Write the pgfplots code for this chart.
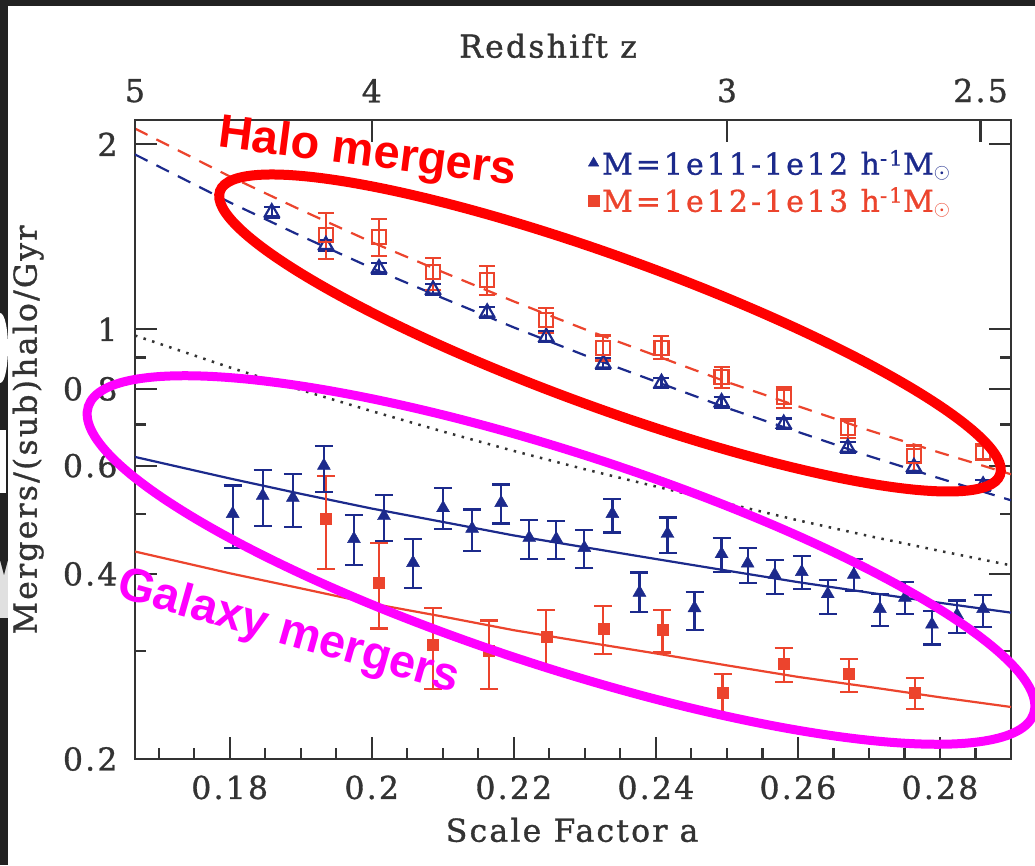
\documentclass[border=0pt]{standalone}
\usepackage{pgfplots}
\pgfplotsset{compat=1.18}
\usepackage{pgfplotstable}
\usepackage{fontspec}
\newfontfamily\labfontfam[LetterSpace=7,FakeBold=1]{DejaVu Serif}
\newfontfamily\legfontfam[LetterSpace=10,FakeBold=1]{DejaVu Serif}
\newfontfamily\annfontfam{Liberation Sans}
\newcommand\lab{\labfontfam\fontsize{31.5}{36}\selectfont}
\newcommand\legf{\legfontfam\fontsize{30}{34}\selectfont}
\newcommand\annf{\annfontfam\bfseries\fontsize{47}{50}\selectfont}
\definecolor{axgray}{HTML}{333333}
\definecolor{dblue}{RGB}{28,42,140}
\definecolor{dred}{RGB}{236,68,45}
\definecolor{bgdark}{HTML}{222222}
\definecolor{annred}{RGB}{255,0,0}
\definecolor{annmag}{RGB}{255,0,255}

% halo mergers, low mass (open triangles)
\pgfplotstableread{
a v
0.18592 1.550
0.19354 1.371
0.20102 1.257
0.20863 1.161
0.21625 1.065
0.22457 0.972
0.23261 0.880
0.24079 0.818
0.24925 0.761
0.25800 0.702
0.26702 0.642
0.27633 0.597
0.28607 0.557
}\halob
% halo mergers, high mass (open squares)
\pgfplotstableread{
a v ep em
0.19354 1.422 0.123 0.121
0.20102 1.412 0.098 0.097
0.20863 1.238 0.067 0.079
0.21625 1.203 0.064 0.066
0.22457 1.036 0.047 0.051
0.23261 0.931 0.046 0.041
0.24079 0.931 0.043 0.037
0.24925 0.836 0.032 0.033
0.25800 0.777 0.027 0.032
0.26702 0.690 0.024 0.025
0.27633 0.623 0.024 0.034
0.28607 0.630 0.021 0.014
}\halor
% galaxy mergers, low mass
\pgfplotstableread{
a v ep em
0.18042 0.501 0.056 0.060
0.18465 0.536 0.055 0.057
0.18889 0.532 0.050 0.055
0.19326 0.600 0.046 0.056
0.19749 0.456 0.043 0.043
0.20172 0.497 0.041 0.044
0.20581 0.417 0.039 0.037
0.21004 0.512 0.040 0.038
0.21413 0.474 0.035 0.038
0.21822 0.522 0.037 0.039
0.22217 0.458 0.032 0.035
0.22598 0.456 0.032 0.033
0.22993 0.441 0.031 0.032
0.23388 0.501 0.029 0.034
0.23769 0.373 0.029 0.026
0.24164 0.465 0.029 0.032
0.24544 0.352 0.022 0.028
0.24925 0.431 0.027 0.028
0.25292 0.416 0.025 0.029
0.25673 0.399 0.023 0.028
0.26054 0.403 0.025 0.025
0.26420 0.371 0.020 0.027
0.26787 0.399 0.024 0.024
0.27154 0.351 0.020 0.022
0.27506 0.366 0.022 0.022
0.27887 0.331 0.017 0.024
0.28240 0.343 0.019 0.022
0.28607 0.351 0.019 0.023
}\galb
% galaxy mergers, high mass
\pgfplotstableread{
a v ep em
0.19354 0.492 0.086 0.084
0.20102 0.387 0.062 0.061
0.20863 0.307 0.045 0.047
0.21653 0.300 0.036 0.040
0.22457 0.316 0.034 0.035
0.23261 0.326 0.029 0.030
0.24093 0.325 0.025 0.027
0.24939 0.256 0.019 0.020
0.25800 0.286 0.017 0.019
0.26717 0.275 0.016 0.018
0.27647 0.256 0.015 0.015
}\galr

\begin{document}
\begin{tikzpicture}
\path[use as bounding box] (0pt,0pt) rectangle (1035pt,865pt);
\fill[white] (0pt,0pt) rectangle (1035pt,865pt);
\begin{axis}[
  at={(135pt,106pt)}, anchor=south west,
  scale only axis, width=876pt, height=639pt,
  xmin=0.166667, xmax=0.29,
  ymode=log, ymin=0.2, ymax=2.19,
  enlargelimits=false,
  axis line style={line width=2.2pt, color=axgray},
  tick align=inside,
  major tick length=22pt, minor tick length=11pt,
  tick style={line width=2.2pt, color=axgray},
  xtick={0.18,0.2,0.22,0.24,0.26,0.28},
  xticklabels={0.18,0.2,0.22,0.24,0.26,0.28},
  minor xtick={0.17,0.175,0.185,0.19,0.195,0.205,0.21,0.215,0.225,0.23,0.235,0.245,0.25,0.255,0.265,0.27,0.275,0.285},
  xtick pos=left,
  ytick={0.2,0.4,0.6,0.8,1,2},
  yticklabels={0.2,0.4,0.6,0.8,1,2},
  minor ytick={0.3,0.5,0.7,0.9},
  /pgf/number format/assume math mode=true,
  ticklabel style={font=\lab, text=axgray},
  xticklabel style={yshift=-13pt},
  yticklabel style={xshift=-14pt},
  xlabel={Scale Factor a},
  ylabel={Mergers/(sub)halo/Gyr},
  every axis x label/.style={at={(axis description cs:0.499,-0.111)}, anchor=center, font=\lab, text=axgray},
  every axis y label/.style={at={(axis description cs:-0.122,0.515)}, anchor=center, rotate=90, font=\lab, text=axgray},
  legend style={draw=none, fill=none, at={(axis description cs:0.517,0.958)}, anchor=north west,
    font=\legf, row sep=5pt, inner sep=0pt, nodes={inner sep=3pt}},
  legend cell align=left,
]
% fit lines
\addplot[forget plot, color=axgray, line width=2.5pt, dash pattern=on 2.5pt off 6.5pt] coordinates {
(0.166667,0.977) (0.18,0.867) (0.19,0.797) (0.2,0.736) (0.21,0.682) (0.22,0.634) (0.23,0.592) (0.24,0.555) (0.25,0.521) (0.26,0.489) (0.27,0.461) (0.28,0.436) (0.29,0.413)};
\addplot[forget plot, color=dblue, line width=2.2pt, dash pattern=on 14pt off 10pt] coordinates {
(0.166667,1.925) (0.18,1.609) (0.19,1.419) (0.2,1.258) (0.21,1.124) (0.22,1.007) (0.23,0.907) (0.24,0.822) (0.25,0.745) (0.26,0.681) (0.27,0.622) (0.28,0.572) (0.29,0.527)};
\addplot[forget plot, color=dred, line width=2.2pt, dash pattern=on 14pt off 10pt] coordinates {
(0.166667,2.121) (0.18,1.773) (0.19,1.564) (0.2,1.386) (0.21,1.239) (0.22,1.110) (0.23,1.000) (0.24,0.906) (0.25,0.821) (0.26,0.750) (0.27,0.685) (0.28,0.630) (0.29,0.581)};
\addplot[forget plot, color=dblue, line width=2.2pt] coordinates {
(0.166667,0.620) (0.18,0.572) (0.19,0.540) (0.2,0.511) (0.21,0.486) (0.22,0.462) (0.23,0.442) (0.24,0.423) (0.25,0.405) (0.26,0.388) (0.27,0.373) (0.28,0.359) (0.29,0.346)};
\addplot[forget plot, color=dred, line width=2.2pt] coordinates {
(0.166667,0.435) (0.18,0.401) (0.19,0.379) (0.2,0.358) (0.21,0.341) (0.22,0.324) (0.23,0.310) (0.24,0.297) (0.25,0.284) (0.26,0.272) (0.27,0.262) (0.28,0.252) (0.29,0.243)};
% halo points
\addplot[forget plot, only marks, color=dblue, mark=triangle, mark size=8pt, mark options={line width=2.2pt},
  error bars/.cd, y dir=both, y fixed relative=0.02,
  error bar style={line width=2.2pt}, error mark options={rotate=90, mark size=8pt, line width=2.2pt}]
  table[x=a, y=v] {\halob};
\addplot[forget plot, only marks, color=dred, mark=square, mark size=7pt, mark options={line width=2.2pt},
  error bars/.cd, y dir=both, y explicit,
  error bar style={line width=2.2pt}, error mark options={rotate=90, mark size=8pt, line width=2.2pt}]
  table[x=a, y=v, y error plus=ep, y error minus=em] {\halor};
% galaxy points
\addplot[forget plot, only marks, color=dred, mark=square*, mark size=5.5pt,
  error bars/.cd, y dir=both, y explicit,
  error bar style={line width=2.2pt}, error mark options={rotate=90, mark size=9pt, line width=2.2pt}]
  table[x=a, y=v, y error plus=ep, y error minus=em] {\galr};
\addplot[forget plot, only marks, color=dblue, mark=triangle*, mark size=7.5pt,
  error bars/.cd, y dir=both, y explicit,
  error bar style={line width=2.2pt}, error mark options={rotate=90, mark size=9pt, line width=2.2pt}]
  table[x=a, y=v, y error plus=ep, y error minus=em] {\galb};
% legend
\addlegendimage{only marks, mark=triangle*, mark size=6pt, color=dblue}
\addlegendentry{\textcolor{dblue}{M=1e11-1e12 h\textsuperscript{-1}M$_\odot$}}
\addlegendimage{only marks, mark=square*, mark size=5.5pt, color=dred}
\addlegendentry{\textcolor{dred}{M=1e12-1e13 h\textsuperscript{-1}M$_\odot$}}
\end{axis}
% top axis: redshift
\begin{axis}[
  at={(135pt,106pt)}, anchor=south west,
  scale only axis, width=876pt, height=639pt,
  xmin=0.166667, xmax=0.29,
  ymode=log, ymin=0.2, ymax=2.19,
  axis x line*=top, hide y axis,
  axis line style={line width=2.2pt, color=axgray},
  tick align=inside,
  major tick length=22pt,
  tick style={line width=2.2pt, color=axgray},
  xtick={0.166667,0.2,0.25,0.285714},
  xticklabels={5,4,3,2.5},
  minor xtick={},
  ticklabel style={font=\lab, text=axgray},
  xticklabel style={yshift=14pt},
  xlabel={Redshift z},
  every axis x label/.style={at={(axis description cs:0.4715,1.116)}, anchor=center, font=\lab, text=axgray},
]
\addplot[draw=none, forget plot] coordinates {(0.2,1)};
\end{axis}
% annotations
\draw[annred, line width=10pt, rotate around={-20:(610pt,532pt)}] (610pt,532pt) ellipse (415pt and 75pt);
\node[annred, font=\annf, rotate=-7.3, anchor=base, inner sep=0pt] at (366pt,699pt) {Halo mergers};
\draw[annmag, line width=9pt, rotate around={-18:(561pt,305pt)}] (561pt,305pt) ellipse (497pt and 107pt);
\node[annmag, font=\annf, rotate=-15.8, anchor=base, inner sep=0pt] at (285pt,220pt) {Galaxy mergers};
% frame of the screenshot
\fill[bgdark] (0pt,0pt) rectangle (8pt,865pt);
\fill[bgdark] (0pt,859pt) rectangle (1035pt,865pt);
\fill[white] (0pt,482pt) .. controls (6pt,482pt) and (8pt,505pt) .. (8pt,517pt) .. controls (8pt,535pt) and (5pt,552pt) .. (0pt,552pt) -- cycle;
\fill[white] (0pt,435pt) rectangle (6pt,372pt);
\fill[black!12] (0pt,305pt) rectangle (8pt,247pt);
\fill[bgdark] (0pt,305pt) -- (8pt,305pt) -- (4pt,290pt) -- cycle;
\end{tikzpicture}
\end{document}
